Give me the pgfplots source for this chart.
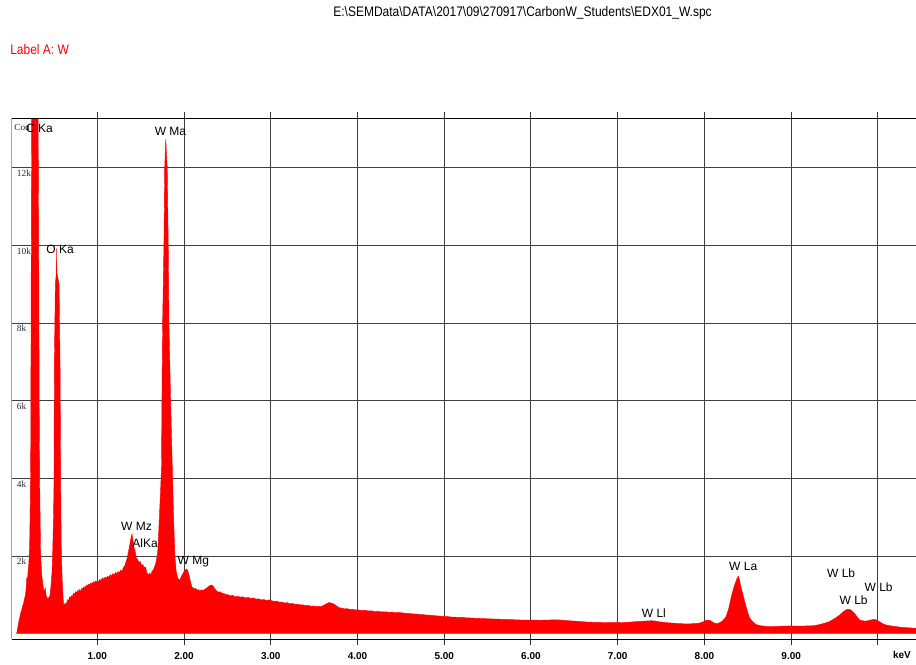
\documentclass[border=0pt]{standalone}
\usepackage{fontspec}
\setmainfont{Liberation Sans}
\newfontfamily\serifx{Liberation Serif}
\usepackage{pgfplots}
\pgfplotsset{compat=1.18}
\definecolor{specred}{RGB}{255,0,0}
\definecolor{tickblue}{RGB}{40,40,70}
\pgfplotstableread{
x y
0.070 0
0.080 120
0.090 250
0.100 370
0.110 460
0.120 560
0.130 620
0.140 720
0.150 780
0.160 900
0.170 980
0.180 1180
0.187 1430
0.195 1380
0.200 1550
0.210 1800
0.220 2300
0.228 3500
0.233 5000
0.236 8000
0.242 12500
0.250 20000
0.280 30000
0.310 20000
0.318 13000
0.326 9000
0.330 6000
0.336 3800
0.345 2200
0.352 1800
0.360 1500
0.370 1300
0.380 1150
0.390 1080
0.400 1180
0.410 980
0.420 940
0.430 880
0.440 930
0.455 980
0.467 1265
0.478 1600
0.486 2130
0.495 3000
0.500 3750
0.505 7000
0.516 9000
0.528 9300
0.531 9920
0.534 9300
0.559 9000
0.570 7000
0.578 3750
0.585 2130
0.597 1265
0.610 780
0.620 740
0.630 780
0.640 760
0.650 820
0.660 880
0.670 840
0.680 950
0.690 910
0.700 980
0.710 940
0.720 1010
0.730 1050
0.740 1000
0.750 1080
0.760 1040
0.770 1110
0.780 1070
0.790 1140
0.800 1120
0.810 1090
0.820 1170
0.830 1140
0.840 1200
0.850 1160
0.860 1230
0.870 1190
0.880 1260
0.890 1220
0.900 1280
0.910 1240
0.920 1300
0.930 1270
0.940 1320
0.950 1290
0.960 1340
0.970 1300
0.980 1360
0.990 1320
1.000 1370
1.015 1340
1.030 1400
1.045 1370
1.060 1440
1.075 1400
1.090 1460
1.105 1430
1.120 1480
1.135 1450
1.150 1520
1.165 1480
1.180 1550
1.195 1510
1.210 1580
1.225 1540
1.240 1600
1.255 1570
1.270 1640
1.285 1600
1.300 1700
1.315 1740
1.330 1840
1.345 1950
1.360 2120
1.375 2300
1.390 2480
1.400 2570
1.410 2420
1.420 2250
1.434 2150
1.450 1950
1.465 1900
1.480 1840
1.495 1860
1.510 1760
1.525 1780
1.540 1700
1.555 1720
1.570 1580
1.585 1510
1.600 1560
1.615 1520
1.630 1600
1.645 1640
1.660 1720
1.675 1820
1.688 1980
1.700 2200
1.715 3000
1.730 3700
1.740 4300
1.745 6000
1.753 8000
1.768 10000
1.777 12000
1.785 12500
1.790 12740
1.798 12300
1.806 12000
1.818 10000
1.826 8000
1.845 6000
1.868 4000
1.882 2800
1.895 2000
1.910 1600
1.925 1450
1.940 1380
1.955 1400
1.970 1480
1.985 1540
2.000 1600
2.015 1640
2.030 1665
2.045 1610
2.060 1480
2.075 1330
2.090 1210
2.105 1180
2.120 1150
2.135 1170
2.150 1120
2.165 1140
2.180 1100
2.200 1130
2.220 1110
2.240 1150
2.260 1170
2.280 1210
2.300 1245
2.320 1255
2.340 1210
2.360 1140
2.380 1090
2.400 1070
2.420 1080
2.440 1030
2.460 1040
2.480 1000
2.500 1010
2.530 975
2.560 990
2.590 950
2.620 960
2.650 940
2.680 950
2.710 920
2.740 935
2.770 910
2.800 920
2.830 890
2.860 900
2.890 870
2.920 880
2.950 855
2.980 870
3.010 850
3.040 830
3.070 840
3.100 810
3.130 815
3.160 790
3.190 800
3.220 770
3.250 780
3.280 755
3.310 760
3.340 740
3.370 745
3.400 725
3.430 730
3.460 710
3.490 715
3.520 700
3.550 705
3.580 700
3.610 730
3.640 770
3.670 800
3.700 790
3.730 760
3.760 710
3.790 670
3.820 660
3.850 640
3.880 645
3.910 625
3.940 630
3.970 612
4.000 615
4.040 600
4.080 605
4.120 585
4.160 590
4.200 570
4.240 575
4.280 560
4.320 565
4.360 550
4.400 555
4.440 540
4.480 545
4.520 535
4.560 525
4.600 520
4.640 510
4.680 505
4.720 495
4.760 490
4.800 480
4.840 475
4.880 465
4.920 460
4.960 450
5.000 445
5.040 440
5.080 430
5.120 428
5.160 420
5.200 422
5.250 410
5.300 405
5.350 398
5.400 395
5.450 388
5.500 385
5.550 380
5.600 378
5.650 372
5.700 370
5.750 365
5.800 360
5.850 356
5.900 352
5.950 350
6.000 348
6.050 350
6.100 346
6.150 348
6.200 352
6.250 356
6.300 358
6.350 350
6.400 340
6.450 332
6.500 325
6.550 316
6.600 308
6.650 300
6.700 296
6.750 292
6.800 290
6.850 288
6.900 286
6.950 284
7.000 285
7.050 288
7.100 292
7.150 300
7.210 310
7.260 318
7.300 322
7.350 330
7.390 335
7.430 326
7.470 310
7.520 296
7.560 285
7.610 276
7.650 270
7.700 262
7.750 256
7.790 250
7.840 255
7.890 262
7.940 272
7.980 300
8.010 335
8.040 350
8.070 335
8.100 290
8.130 258
8.170 275
8.210 330
8.250 440
8.280 650
8.310 950
8.340 1200
8.360 1330
8.375 1420
8.390 1485
8.405 1380
8.420 1210
8.445 1000
8.470 780
8.495 580
8.520 405
8.560 300
8.600 232
8.650 205
8.700 190
8.750 182
8.800 186
8.850 190
8.900 195
8.950 198
9.000 200
9.050 198
9.100 196
9.150 198
9.200 202
9.250 206
9.300 222
9.350 250
9.400 280
9.440 310
9.500 390
9.560 480
9.610 580
9.645 630
9.675 625
9.700 590
9.730 525
9.760 430
9.790 350
9.830 330
9.860 325
9.900 340
9.940 365
9.965 370
10.000 332
10.030 290
10.060 252
10.100 222
10.150 200
10.210 182
10.270 165
10.330 155
10.380 148
10.439 140
}\spectrum
\begin{document}
\begin{tikzpicture}[x=1pt,y=1pt]
\path[use as bounding box] (0,0) rectangle (687,498);
\node[font=\fontsize{9}{10}\selectfont, inner sep=0pt] at (391.9,488.3)
  {\scalebox{1}[1.15]{E:\textbackslash SEMData\textbackslash DATA\textbackslash 2017\textbackslash 09\textbackslash 270917\textbackslash CarbonW\_Students\textbackslash EDX01\_W.spc}};
\node[font=\fontsize{9}{10}\selectfont, text=specred, anchor=west, inner sep=0pt] at (7.5,460.5)
  {\scalebox{1}[1.15]{Label A: W}};
\begin{axis}[
  at={(8.78pt,18.53pt)}, anchor=south west,
  scale only axis, width=678.2pt, height=390.75pt,
  xmin=0.013, xmax=10.439, ymin=-144, ymax=13273,
  scaled y ticks=false, scaled x ticks=false,
  axis line style={draw=none},
  xtick={1,2,3,4,5,6,7,8,9,10},
  xticklabels={1.00,2.00,3.00,4.00,5.00,6.00,7.00,8.00,9.00,{}},
  ytick={2000,4000,6000,8000,10000,12000},
  yticklabels={2k,4k,6k,8k,10k,12k},
  grid=major,
  grid style={black!75, line width=0.75pt},
  tick align=outside,
  major tick length=4.5pt,
  xtick style={black!80, line width=0.75pt},
  ytick style={draw=none},
  xticklabel style={font=\fontsize{7.5}{8}\selectfont\bfseries, yshift=-2pt},
  yticklabel style={font=\fontsize{7}{8}\selectfont\serifx, text=tickblue, anchor=north west, inner sep=0pt, xshift=8.25pt, yshift=-1.5pt},
  clip=true,
]
\addplot[fill=specred, draw=specred, line width=0.3pt] table[x=x,y=y] {\spectrum} \closedcycle;
\draw[black, line width=0.75pt] (rel axis cs:0,0) -- (rel axis cs:1,0);
\draw[black, line width=0.75pt] (rel axis cs:0,0) -- (rel axis cs:0,1) -- (rel axis cs:1,1);
\node[font=\fontsize{7}{8}\selectfont\serifx, text=tickblue, anchor=west, inner sep=0pt] at (axis cs:0.04,13048) {Cou};
\begin{scope}[every node/.style={font=\fontsize{9}{10}\selectfont, inner sep=0pt}]
\node at (axis cs:0.334,13022) {C Ka};
\node at (axis cs:0.570,9906) {O Ka};
\node at (axis cs:1.843,12944) {W Ma};
\node at (axis cs:1.452,2773) {W Mz};
\node at (axis cs:1.550,2335) {AlKa};
\node at (axis cs:2.108,1846) {W Mg};
\node at (axis cs:7.417,541) {W Ll};
\node at (axis cs:8.447,1725) {W La};
\node at (axis cs:9.576,1555) {W Lb};
\node at (axis cs:10.008,1210) {W Lb};
\node at (axis cs:9.720,850) {W Lb};
\end{scope}
\end{axis}
\node[font=\fontsize{7.5}{8}\selectfont\bfseries, inner sep=0pt] at (676.5,6.75) {keV};
\end{tikzpicture}
\end{document}
